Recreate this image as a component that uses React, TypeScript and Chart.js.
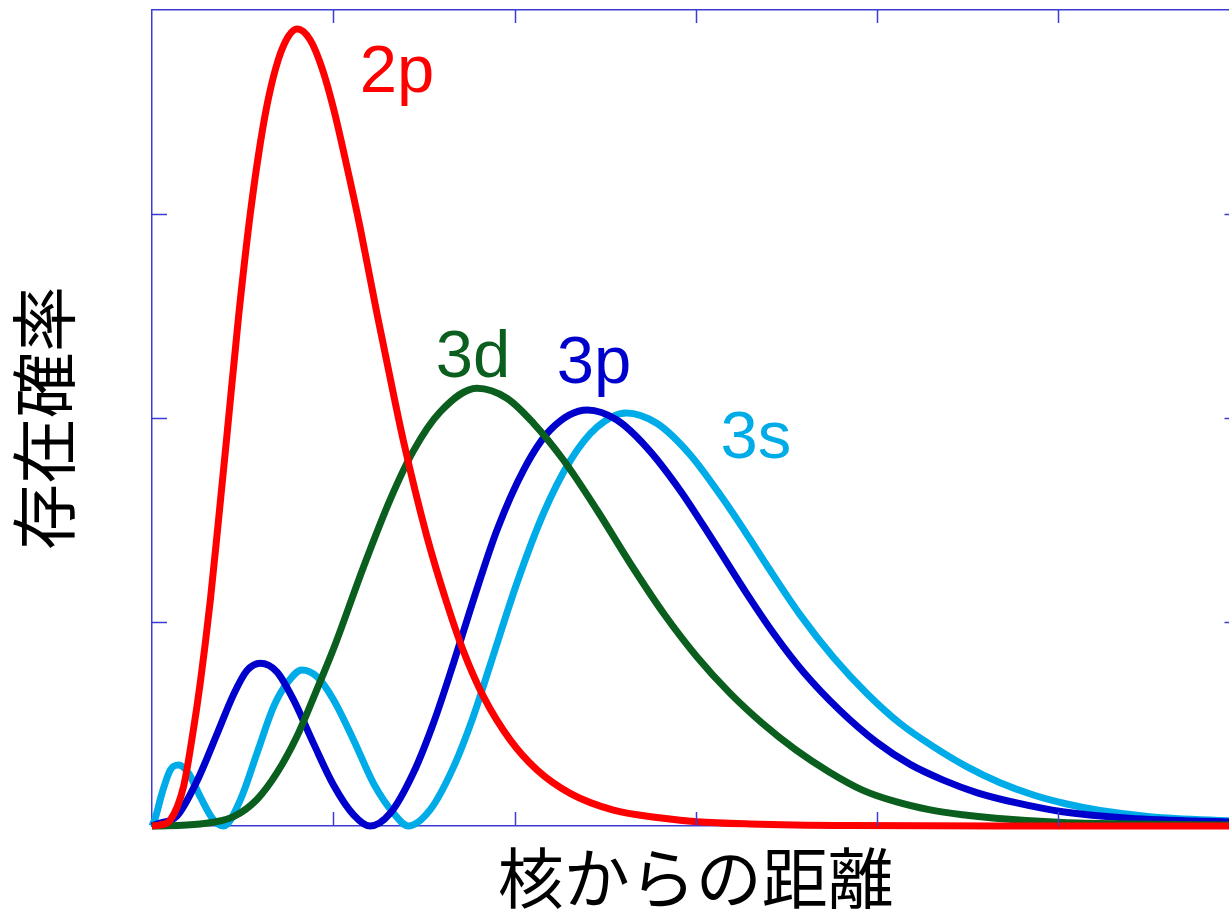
import { useEffect, useRef } from 'react';
import { Chart, registerables } from 'chart.js';

Chart.register(...registerables);

// ---- data ----
// distance from nucleus (arbitrary units, ticks every 1) and probability (ticks every 1)
const r2p = [0, 0.046, 0.101, 0.174, 0.221, 0.266, 0.322, 0.367, 0.414, 0.478, 0.542, 0.598, 0.643, 0.698, 0.753, 0.801, 0.873, 0.938, 1.002, 1.076, 1.149, 1.241, 1.305, 1.386, 1.517, 1.627, 1.719, 1.829, 1.976, 2.124, 2.307, 2.546, 2.822, 3.006, 3.3, 3.852, 4.679, 6];
const p2p = [0, 0.005, 0.029, 0.193, 0.43, 0.7, 1.108, 1.5, 1.92, 2.5, 3.0, 3.35, 3.57, 3.76, 3.872, 3.907, 3.853, 3.715, 3.515, 3.23, 2.93, 2.513, 2.235, 1.892, 1.418, 1.092, 0.855, 0.634, 0.422, 0.275, 0.16, 0.078, 0.038, 0.021, 0.01, 0.002, 0, 0];

const r3d = [0, 0.266, 0.45, 0.579, 0.689, 0.8, 0.91, 1.002, 1.167, 1.314, 1.443, 1.59, 1.793, 1.958, 2.105, 2.27, 2.455, 2.638, 2.822, 3.006, 3.19, 3.368, 3.552, 3.736, 3.92, 4.104, 4.287, 4.471, 4.655, 5.023, 5.39, 6];
const p3d = [0, 0.01, 0.046, 0.13, 0.26, 0.44, 0.67, 0.87, 1.27, 1.6, 1.84, 2.03, 2.146, 2.097, 1.974, 1.794, 1.549, 1.288, 1.043, 0.83, 0.65, 0.503, 0.373, 0.265, 0.176, 0.119, 0.08, 0.055, 0.038, 0.017, 0.01, 0.005];

const r3p = [0, 0.028, 0.138, 0.248, 0.359, 0.45, 0.524, 0.597, 0.689, 0.781, 0.891, 1.002, 1.112, 1.204, 1.314, 1.443, 1.553, 1.664, 1.774, 1.903, 2.05, 2.197, 2.401, 2.565, 2.73, 2.914, 3.098, 3.282, 3.429, 3.594, 3.797, 3.999, 4.183, 4.366, 4.55, 4.771, 5.023, 5.39, 6];
const p3p = [0, 0.01, 0.05, 0.22, 0.452, 0.645, 0.762, 0.798, 0.756, 0.618, 0.405, 0.2, 0.055, 0, 0.062, 0.262, 0.505, 0.8, 1.11, 1.45, 1.745, 1.941, 2.039, 1.99, 1.855, 1.645, 1.395, 1.138, 0.945, 0.755, 0.565, 0.41, 0.302, 0.225, 0.164, 0.113, 0.07, 0.038, 0.018];

const r3s = [0, 0.018, 0.055, 0.101, 0.147, 0.202, 0.266, 0.34, 0.395, 0.487, 0.579, 0.671, 0.745, 0.827, 0.91, 1.002, 1.112, 1.222, 1.333, 1.414, 1.535, 1.664, 1.774, 1.866, 2.013, 2.16, 2.307, 2.455, 2.616, 2.785, 2.969, 3.153, 3.3, 3.392, 3.576, 3.76, 3.944, 4.127, 4.311, 4.495, 4.679, 4.863, 5.047, 5.231, 5.506, 6];
const p3s = [0, 0.039, 0.16, 0.275, 0.299, 0.258, 0.144, 0.029, 0, 0.127, 0.356, 0.585, 0.7, 0.765, 0.732, 0.618, 0.422, 0.209, 0.062, 0, 0.08, 0.29, 0.54, 0.79, 1.19, 1.533, 1.79, 1.955, 2.025, 1.974, 1.82, 1.6, 1.405, 1.278, 1.035, 0.826, 0.65, 0.503, 0.389, 0.291, 0.212, 0.152, 0.108, 0.076, 0.046, 0.022];

const seriesNames = ['2p', '3d', '3p', '3s'];
const labelX = [1.146, 1.565, 2.233, 3.137];
const labelY = [3.598, 2.202, 2.172, 1.804];

const xTicks = [1, 2, 3, 4, 5];
const yTicks = [1, 2, 3];

const xTitle = '核からの距離';
const yTitle = '存在確率';

// ---- styles ----
const COLORS = ['#ff0000', '#0a5e1e', '#0000cc', '#00ace8'];
const AXIS = '#3c3cd4';
const LABEL_FONT = '"Liberation Sans", Arial, sans-serif';
const CJK_FONT = '"Noto Sans CJK JP", "Noto Sans CJK SC", sans-serif';

const toPoints = (xs: number[], ys: number[]) => xs.map((x, i) => ({ x, y: ys[i] }));

const inwardTicks = {
  id: 'inwardTicks',
  afterDraw(chart: any) {
    const { ctx, chartArea: a, scales } = chart;
    const xs = scales.x;
    const ys = scales.y;
    ctx.save();
    ctx.strokeStyle = AXIS;
    ctx.lineWidth = 1.5;
    ctx.beginPath();
    for (const v of xTicks) {
      const px = Math.round(xs.getPixelForValue(v)) + 0.5;
      ctx.moveTo(px, a.bottom);
      ctx.lineTo(px, a.bottom - 14);
      ctx.moveTo(px, a.top);
      ctx.lineTo(px, a.top + 13);
    }
    for (const v of yTicks) {
      const py = Math.round(ys.getPixelForValue(v)) + 0.5;
      ctx.moveTo(a.left, py);
      ctx.lineTo(a.left + 15, py);
      ctx.moveTo(a.right, py);
      ctx.lineTo(a.right - 15, py);
    }
    ctx.stroke();
    ctx.restore();
  },
};

const curveLabels = {
  id: 'curveLabels',
  afterDatasetsDraw(chart: any) {
    const { ctx, scales } = chart;
    ctx.save();
    ctx.font = `67px ${LABEL_FONT}`;
    ctx.textAlign = 'left';
    ctx.textBaseline = 'alphabetic';
    seriesNames.forEach((name, i) => {
      ctx.fillStyle = COLORS[i];
      ctx.fillText(name, scales.x.getPixelForValue(labelX[i]), scales.y.getPixelForValue(labelY[i]));
    });
    ctx.restore();
  },
};

export default function App() {
  const ref = useRef<HTMLCanvasElement>(null);

  useEffect(() => {
    document.body.style.margin = '0';
    const series = [toPoints(r2p, p2p), toPoints(r3d, p3d), toPoints(r3p, p3p), toPoints(r3s, p3s)];
    const hidden = { display: false };
    const border = { display: true, color: AXIS, width: 1.5 };
    const grid = { display: true, drawOnChartArea: false, drawTicks: false };
    const chart = new Chart(ref.current as HTMLCanvasElement, {
      type: 'line',
      data: {
        datasets: series.map((data, i) => ({
          label: seriesNames[i],
          data,
          borderColor: COLORS[i],
          backgroundColor: COLORS[i],
          borderWidth: 7,
          pointRadius: 0,
          pointHoverRadius: 0,
          fill: false,
          cubicInterpolationMode: 'monotone' as const,
          borderJoinStyle: 'round' as const,
          clip: 12,
        })),
      },
      options: {
        responsive: false,
        animation: false,
        events: [],
        layout: { padding: { left: 0, top: 10, right: 1.5, bottom: 0 } },
        plugins: { legend: { display: false }, tooltip: { enabled: false }, title: { display: false } },
        scales: {
          x: {
            type: 'linear',
            position: 'bottom',
            min: 0,
            max: 6,
            z: 1,
            ticks: hidden,
            grid,
            border,
            title: {
              display: true,
              text: xTitle,
              color: '#000',
              font: { family: CJK_FONT, size: 66, lineHeight: 1 },
              padding: { top: 19, bottom: 0 },
            },
          },
          x2: {
            type: 'linear',
            position: 'top',
            min: 0,
            max: 6,
            z: 1,
            ticks: hidden,
            grid,
            border,
          },
          y: {
            type: 'linear',
            position: 'left',
            min: 0,
            max: 4,
            z: 1,
            ticks: hidden,
            grid,
            border,
            title: {
              display: true,
              text: yTitle,
              color: '#000',
              font: { family: CJK_FONT, size: 66, lineHeight: 1.2 },
              padding: { top: 4.4, bottom: 68.4 },
            },
          },
          y2: {
            type: 'linear',
            position: 'right',
            min: 0,
            max: 4,
            z: 1,
            ticks: hidden,
            grid,
            border,
          },
        },
      },
      plugins: [inwardTicks, curveLabels],
    } as any);
    return () => chart.destroy();
  }, []);

  return (
    <div style={{ position: 'absolute', left: 0, top: 0, width: 1229, height: 911, overflow: 'hidden', background: '#fff' }}>
      <canvas ref={ref} width={1241} height={911} style={{ display: 'block', width: 1241, height: 911 }} />
    </div>
  );
}
